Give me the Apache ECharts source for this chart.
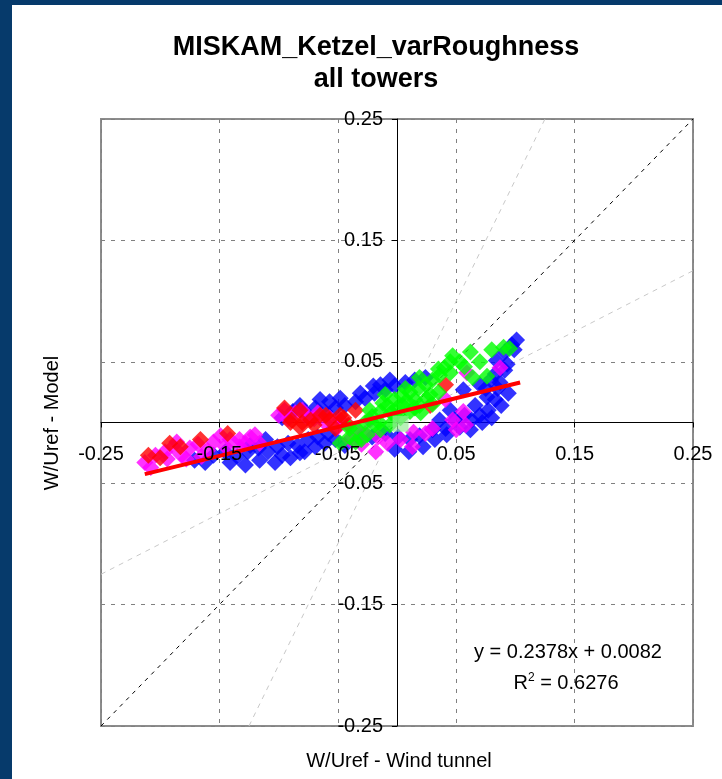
<!DOCTYPE html>
<html><head><meta charset="utf-8">
<script src="https://cdn.jsdelivr.net/npm/echarts@6/dist/echarts.min.js"></script>
<style>
html,body{margin:0;padding:0;width:722px;height:779px;background:#063a6b;overflow:hidden}
#c{position:absolute;left:12px;top:5px;width:710px;height:774px;background:#ffffff}
</style></head><body><div id="c"></div>
<script>
const titleLines = ['MISKAM_Ketzel_varRoughness', 'all towers'];
const xAxisName = 'W/Uref - Wind tunnel';
const yAxisName = 'W/Uref - Model';
const tickValues = [-0.25, -0.15, -0.05, 0.05, 0.15, 0.25];
const tickStep = 0.1;

const blueSeries = [
  [-0.171,-0.031],[-0.162,-0.033],[-0.155,-0.027],[-0.145,-0.024],[-0.135,-0.028],[-0.126,-0.024],
  [-0.117,-0.021],[-0.109,-0.024],[-0.101,-0.020],[-0.092,-0.017],[-0.084,-0.019],[-0.075,-0.014],
  [-0.067,-0.012],[-0.058,-0.009],[-0.111,-0.014],[-0.124,-0.019],[-0.097,-0.027],[-0.082,-0.025],
  [-0.141,-0.033],[-0.128,-0.035],[-0.116,-0.031],[-0.103,-0.033],[-0.090,-0.029],[-0.078,-0.024],
  [-0.069,-0.020],[-0.061,-0.017],[-0.052,-0.014],
  [-0.078,0.009],[-0.069,0.012],[-0.061,0.009],[-0.052,0.012],[-0.044,0.014],[-0.035,0.017],
  [-0.027,0.020],[-0.019,0.024],[-0.010,0.027],[-0.002,0.030],[0.007,0.033],[0.015,0.035],
  [0.024,0.037],[-0.097,0.004],[-0.088,0.009],[-0.065,0.019],[-0.048,0.020],[-0.031,0.024],
  [-0.014,0.031],[-0.082,0.014],[-0.057,0.017],[-0.006,0.035],[-0.020,0.030],
  [-0.044,-0.019],[-0.031,-0.014],[-0.021,-0.012],[-0.010,-0.009],[0.001,-0.012],[0.011,-0.014],
  [0.019,-0.011],[0.030,-0.006],[0.041,-0.005],[0.049,0.002],[0.057,0.006],[0.063,0.002],
  [0.070,0.006],[0.077,0.010],[0.083,0.019],[0.076,0.021],[0.056,0.027],[0.045,0.010],
  [0.036,0.002],[0.066,0.014],[-0.002,-0.022],[0.010,-0.024],[0.022,-0.020],[0.032,-0.014],
  [0.042,-0.010],[0.053,-0.004],[0.062,-0.006],[0.072,0.000],[0.080,0.004],[0.088,0.014],
  [0.094,0.024],[0.085,0.028],
  [0.084,0.051],[0.091,0.058],[0.097,0.064],[0.101,0.068],[0.087,0.033],[0.079,0.035],
  [0.070,0.031],[0.091,0.043],[0.099,0.060],[0.093,0.048],[0.083,0.040],[0.075,0.028]
];
const magentaSeries = [
  [-0.213,-0.033],[-0.204,-0.027],[-0.196,-0.024],[-0.189,-0.020],[-0.182,-0.027],[-0.175,-0.021],
  [-0.168,-0.018],[-0.160,-0.023],[-0.149,-0.011],[-0.141,-0.014],[-0.133,-0.014],[-0.124,-0.012],
  [-0.116,-0.017],[-0.133,-0.020],[-0.208,-0.037],[-0.194,-0.030],[-0.186,-0.016],[-0.178,-0.030],
  [-0.165,-0.028],[-0.155,-0.016],[-0.145,-0.020],[-0.128,-0.017],[-0.120,-0.010],
  [-0.095,0.010],[-0.086,0.008],[-0.076,0.004],[-0.067,0.008],[-0.057,0.004],[-0.048,0.002],
  [-0.100,0.006],[-0.092,0.003],[-0.080,0.010],[-0.070,0.003],[-0.060,-0.001],[-0.050,-0.004],
  [-0.035,-0.006],[-0.027,-0.009],[-0.016,-0.012],[-0.008,-0.017],[-0.030,-0.018],[-0.018,-0.024],
  [0.003,-0.014],[0.013,-0.020],[0.024,-0.009],[0.030,-0.005],[0.047,0.002],[0.056,0.009],
  [0.014,-0.008],[0.058,-0.002],[0.050,-0.006],
  [0.059,0.041],[0.087,0.045],[0.041,0.019],[-0.023,0.002],[-0.040,-0.014]
];
const redSeries = [
  [-0.210,-0.027],[-0.200,-0.029],[-0.192,-0.017],[-0.183,-0.020],[-0.166,-0.014],[-0.143,-0.009],
  [-0.095,0.012],[-0.089,0.002],[-0.082,-0.004],[-0.073,0.002],[-0.065,0.006],[-0.057,0.002],
  [-0.048,0.006],[-0.041,-0.002],[-0.052,-0.005],[-0.035,0.010],[-0.082,0.010],[0.041,0.031],
  [0.028,0.014],[-0.090,0.000],[-0.080,0.000],[-0.070,-0.002],[-0.060,0.006],[-0.045,0.004]
];
const greenSeries = [
  [-0.048,-0.017],[-0.040,-0.012],[-0.033,-0.006],[-0.027,0.000],[-0.021,0.005],[-0.014,0.009],
  [-0.008,0.014],[-0.002,0.019],[0.004,0.022],[0.011,0.025],[0.018,0.028],[0.024,0.031],
  [0.030,0.035],[0.036,0.039],[0.045,0.041],[0.053,0.050],[0.057,0.046],[0.064,0.037],
  [0.070,0.050],[0.076,0.038],[0.090,0.062],[0.095,0.061],[-0.014,-0.006],[-0.006,-0.002],
  [0.003,0.004],[0.011,0.009],[0.019,0.014],[-0.019,-0.002],[-0.002,0.006],[0.015,0.019],
  [0.028,0.023],[-0.030,-0.014],[-0.023,0.010],[-0.010,0.023],[0.007,0.028],[0.019,0.037],
  [-0.035,-0.016],[-0.025,-0.010],[-0.015,0.000],[-0.005,0.008],[0.005,0.014],[0.015,0.012],
  [0.025,0.020],[0.035,0.025],[0.000,0.012],[-0.012,0.016],[0.008,0.018],[0.020,0.008],
  [0.030,0.015],[-0.040,-0.005],[0.040,0.045],[0.047,0.055],[0.062,0.058],[0.080,0.060],
  [0.045,0.050],[0.035,0.044]
];
const paleSquare = [[0.003,-0.001]];

const trendX = [-0.213, 0.104];
const trendY = [-0.0425, 0.0329];
const oneToOneX = [-0.25, 0.25], oneToOneY = [-0.25, 0.25];
const twoToOneX = [-0.125, 0.125], twoToOneY = [-0.25, 0.25];
const halfToOneX = [-0.25, 0.25], halfToOneY = [-0.125, 0.125];
const equationText = 'y = 0.2378x + 0.0082';
const r2Text = '0.6276';

const FONT = '"Liberation Sans", Arial, sans-serif';
const pairs = (xs, ys) => xs.map((x, i) => [x, ys[i]]);
const axMin = tickValues[0], axMax = tickValues[tickValues.length - 1];
const GRID = {left: 89, top: 114, width: 592, height: 607};
// distance from the grid edge to the zero line, used to put the label-only axes on zero
const zeroFromBottom = GRID.height * (0 - axMin) / (axMax - axMin);
const zeroFromLeft = GRID.width * (0 - axMin) / (axMax - axMin);

const chart = echarts.init(document.getElementById('c'), null, {renderer: 'canvas'});

const baseAxis = {type: 'value', min: axMin, max: axMax, interval: tickStep};
const lineAxis = Object.assign({}, baseAxis, {
  axisLine: {show: true, onZero: true, lineStyle: {color: '#000', width: 1}},
  axisTick: {show: true, inside: false, length: 5, lineStyle: {color: '#000', width: 1}},
  axisLabel: {show: false},
  splitLine: {show: true, lineStyle: {color: '#808080', width: 1, type: [4, 6]}},
  z: 0
});
const labelAxis = (margin, offset) => Object.assign({}, baseAxis, {
  offset: offset,
  axisLine: {show: false, onZero: false},
  axisTick: {show: false},
  splitLine: {show: false},
  axisLabel: {show: true, margin: margin, fontSize: 20, color: '#000', fontFamily: FONT,
    showMinLabel: true, showMaxLabel: true, formatter: v => v.toFixed(2)},
  z: 10
});

function scatter(data, color) {
  return {type: 'scatter', data: data, symbol: 'diamond', symbolSize: 17,
    itemStyle: {color: color}, xAxisIndex: 0, yAxisIndex: 0, z: 3, silent: true};
}
function refLine(data, color, dash, z) {
  return {type: 'line', data: data, showSymbol: false, symbol: 'none',
    lineStyle: {color: color, width: 1, type: dash}, xAxisIndex: 0, yAxisIndex: 0, z: z, silent: true};
}

chart.setOption({
  animation: false,
  grid: Object.assign({show: true, borderColor: '#8c8c8c', borderWidth: 2,
    backgroundColor: 'transparent', containLabel: false}, GRID),
  xAxis: [Object.assign({}, lineAxis, {position: 'bottom'}),
          Object.assign(labelAxis(22, -zeroFromBottom), {position: 'bottom'})],
  yAxis: [Object.assign({}, lineAxis, {position: 'left'}),
          Object.assign(labelAxis(14, -zeroFromLeft), {position: 'left'})],
  series: [
    refLine(pairs(twoToOneX, twoToOneY), '#c8c8c8', [5, 5], 1),
    refLine(pairs(halfToOneX, halfToOneY), '#c8c8c8', [5, 5], 1),
    refLine(pairs(oneToOneX, oneToOneY), '#000000', [4, 5], 1),
    scatter(blueSeries, '#0000ff'),
    scatter(magentaSeries, '#ff00ff'),
    scatter(redSeries, '#ff0000'),
    scatter(greenSeries, '#00ff00'),
    {type: 'scatter', data: paleSquare, symbol: 'rect', symbolSize: 16,
      itemStyle: {color: 'rgba(150,235,150,0.85)'}, z: 4, silent: true},
    {type: 'line', data: pairs(trendX, trendY), showSymbol: false, symbol: 'none',
      lineStyle: {color: '#ff0000', width: 4}, z: 5, silent: true},
    {type: 'scatter', data: [], xAxisIndex: 1, yAxisIndex: 1, silent: true}
  ],
  graphic: [
    {type: 'text', x: 364, y: 43, style: {text: titleLines[0], font: 'bold 27px ' + FONT,
      fill: '#000', align: 'center', verticalAlign: 'middle'}},
    {type: 'text', x: 364, y: 75, style: {text: titleLines[1], font: 'bold 27px ' + FONT,
      fill: '#000', align: 'center', verticalAlign: 'middle'}},
    {type: 'text', x: 387, y: 756, style: {text: xAxisName, font: '20px ' + FONT,
      fill: '#000', align: 'center', verticalAlign: 'middle'}},
    {type: 'text', x: 40, y: 418, rotation: Math.PI / 2, style: {text: yAxisName, font: '20px ' + FONT,
      fill: '#000', align: 'center', verticalAlign: 'middle'}},
    {type: 'text', x: 556, y: 647, z: 20, style: {text: equationText, font: '20px ' + FONT,
      fill: '#000', align: 'center', verticalAlign: 'middle'}},
    {type: 'text', x: 554, y: 678, z: 20, style: {
      text: '{a|R}{s|2}{a| = ' + r2Text + '}',
      align: 'center', verticalAlign: 'middle',
      rich: {a: {fontSize: 20, fontFamily: FONT, color: '#000'},
             s: {fontSize: 12, fontFamily: FONT, color: '#000', verticalAlign: 'top', padding: [0, 0, 10, 0]}}}}
  ]
});
</script></body></html>
